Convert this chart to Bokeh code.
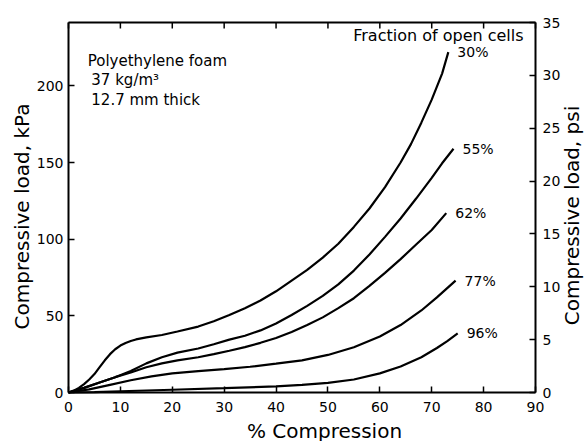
import math
from bokeh.plotting import figure
from bokeh.models import Range1d, LinearAxis, FixedTicker, Label
from bokeh.embed import file_html
from bokeh.resources import INLINE

# ---------------- data ----------------
x_ticks = [0, 10, 20, 30, 40, 50, 60, 70, 80, 90]
kpa_ticks = [0, 50, 100, 150, 200]
psi_ticks = [0, 5, 10, 15, 20, 25, 30, 35]
KPA_PER_PSI = 6.894757
x_max = 90
psi_max = 35
kpa_max = psi_max * KPA_PER_PSI

# 30 % open cells
x30 = [0, 1, 2, 3, 4, 5, 6, 7, 8, 9, 10, 11, 12, 13, 15, 18, 21, 25, 28, 31, 34,
       37, 40, 43, 46, 49, 52, 55, 58, 61, 64, 66, 68, 70, 72, 73.2]
y30 = [0, 1.2, 3, 5.5, 8.5, 12, 16.5, 21, 25, 28.2, 30.6, 32.3, 33.6, 34.6, 36,
       37.5, 39.8, 43, 46.5, 50.5, 55, 60, 66, 73, 80, 88, 97, 108, 120, 134,
       150, 162, 176, 191, 208, 222]
# 55 % open cells
x55 = [0, 3, 6, 9, 12, 15, 18, 21, 25, 28, 31, 34, 37, 40, 43, 46, 49, 52, 55,
       58, 61, 64, 67, 70, 72, 74.2]
y55 = [0, 3, 6.5, 10, 14, 19, 23, 26, 28.7, 31.5, 34.5, 37, 40.5, 45, 50.5, 56.5,
       63, 70.5, 79.5, 90, 101.5, 113.5, 126.5, 140, 149.5, 159]
# 62 % open cells
x62 = [0, 3, 6, 9, 12, 15, 18, 21, 25, 28, 31, 34, 37, 40, 43, 46, 49, 52, 55,
       58, 61, 64, 67, 70, 72.8]
y62 = [0, 3, 6.5, 10, 13, 16.5, 19, 21, 23, 25, 27.2, 29.6, 32.4, 35.5, 39.5, 44,
       49, 55, 61.5, 69.5, 78, 87, 96.5, 106, 117]
# 77 % open cells
x77 = [0, 4, 8, 12, 16, 20, 25, 30, 35, 40, 45, 50, 55, 60, 64, 68, 71, 74.6]
y77 = [0, 2, 5, 8, 10.5, 12.5, 14, 15.3, 16.8, 18.8, 21, 24.5, 29.5, 36.5, 44,
       53.5, 62, 73]
# 96 % open cells
x96 = [0, 5, 10, 20, 30, 40, 45, 50, 55, 60, 64, 68, 71, 73, 75]
y96 = [0, 0.3, 0.8, 1.8, 2.8, 4, 5, 6.3, 8.5, 12.5, 17, 23, 29, 33.5, 38.5]

series = [(x30, y30, "30%"), (x55, y55, "55%"), (x62, y62, "62%"),
          (x77, y77, "77%"), (x96, y96, "96%")]

note_lines = ["Polyethylene foam", "37 kg/m³", "12.7 mm thick"]
legend_title = "Fraction of open cells"
x_title = "% Compression"
y_title = "Compressive load, kPa"
y2_title = "Compressive load, psi"

FONT = "DejaVu Sans"

# ---------------- layout (pixels) ----------------
W, H = 584, 441
FL, FR, FT, FB = 68, 535, 22, 392           # frame box of the chart
sx = (FR - FL) / x_max                         # px per % compression
sy = (FB - FT) / kpa_max                       # px per kPa
x_lo, x_hi = -FL / sx, x_max + (W - FR) / sx
y_lo, y_hi = -(H - FB) / sy, kpa_max + FT / sy

p = figure(width=W, height=H, min_border=0,
           x_range=Range1d(x_lo, x_hi), y_range=Range1d(y_lo, y_hi),
           x_axis_type=None, y_axis_type=None,
           output_backend="svg", toolbar_location=None,
           background_fill_color="white", border_fill_color="white")
p.extra_y_ranges = {"psi": Range1d(y_lo / KPA_PER_PSI, y_hi / KPA_PER_PSI)}
p.outline_line_color = None


def style(ax, standoff):
    ax.axis_line_width = 2
    ax.axis_line_color = "black"
    ax.major_tick_in = 6
    ax.major_tick_out = 0
    ax.major_tick_line_width = 1.5
    ax.major_tick_line_color = "black"
    ax.minor_tick_line_color = None
    ax.major_label_text_font = FONT
    ax.major_label_text_font_size = "14px"
    ax.major_label_text_color = "black"
    ax.major_label_standoff = standoff


xa = LinearAxis(ticker=FixedTicker(ticks=x_ticks), fixed_location=0,
                bounds=(0, x_max))
style(xa, 9)
p.add_layout(xa, "below")

ya = LinearAxis(ticker=FixedTicker(ticks=kpa_ticks), fixed_location=0,
                bounds=(0, kpa_max))
style(ya, 5)
p.add_layout(ya, "left")

ra = LinearAxis(y_range_name="psi", ticker=FixedTicker(ticks=psi_ticks),
                fixed_location=x_max, bounds=(0, psi_max))
style(ra, 7)
p.add_layout(ra, "right")

# top edge of the box with inward ticks
p.segment(x0=[0], x1=[x_max], y0=[kpa_max], y1=[kpa_max],
          line_color="black", line_width=2)
top_tick_len = 6 / sy
p.segment(x0=x_ticks, x1=x_ticks, y0=[kpa_max] * len(x_ticks),
          y1=[kpa_max - top_tick_len] * len(x_ticks),
          line_color="black", line_width=1.5)

for xs, ys, name in series:
    p.line(xs, ys, line_color="black", line_width=2.2)
    p.add_layout(Label(x=xs[-1], y=ys[-1], text=name, x_offset=9,
                       text_baseline="middle", text_align="left",
                       text_font=FONT, text_font_size="14px",
                       text_color="black"))

note_x = [3.7, 4.4, 4.4]
note_y = [215.9, 203.5, 191.0]
for tx, ty, t in zip(note_x, note_y, note_lines):
    p.add_layout(Label(x=tx, y=ty, text=t, text_baseline="middle",
                       text_align="left", text_font=FONT,
                       text_font_size="15px", text_color="black"))

p.add_layout(Label(x=87.7, y=232.8, text=legend_title, text_baseline="middle",
                   text_align="right", text_font=FONT, text_font_size="16px",
                   text_color="black"))

# axis titles (screen units, measured from the bottom-left of the canvas)
p.add_layout(Label(x=324, y=H - 430, x_units="screen", y_units="screen",
                   text=x_title, text_align="center", text_baseline="middle",
                   text_font=FONT, text_font_size="20px", text_color="black"))
p.add_layout(Label(x=21, y=H - 216, x_units="screen", y_units="screen",
                   text=y_title, angle=math.pi / 2, text_align="center",
                   text_baseline="middle", text_font=FONT,
                   text_font_size="20px", text_color="black"))
p.add_layout(Label(x=571, y=H - 215, x_units="screen", y_units="screen",
                   text=y2_title, angle=math.pi / 2, text_align="center",
                   text_baseline="middle", text_font=FONT,
                   text_font_size="20px", text_color="black"))

open("out.html", "w").write(file_html(p, INLINE))
